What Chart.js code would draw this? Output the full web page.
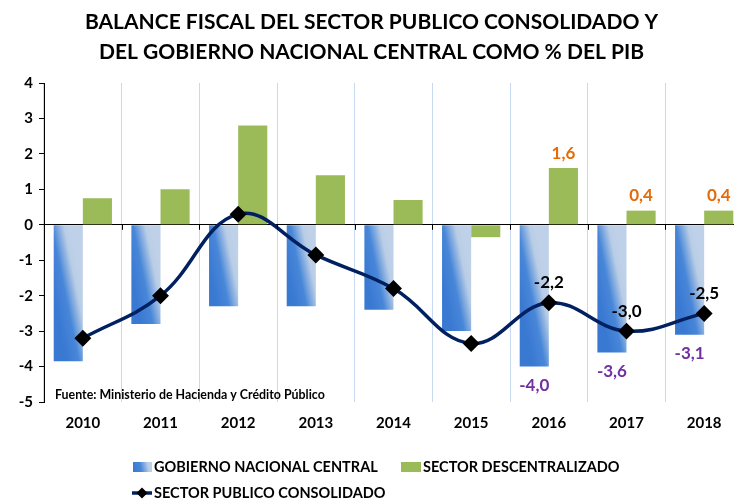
<!DOCTYPE html>
<html>
<head>
<meta charset="utf-8">
<script src="https://cdn.jsdelivr.net/npm/chart.js@4.4.1/dist/chart.umd.min.js"></script>
<style>
  html, body { margin: 0; padding: 0; background: #fff; overflow: hidden; }
  #wrap { width: 734px; height: 504px; overflow: hidden; }
</style>
</head>
<body>
<div id="wrap"><canvas id="balanceChart" width="772" height="504"></canvas></div>
<script>
// datos (% del PIB)
const years = ['2010', '2011', '2012', '2013', '2014', '2015', '2016', '2017', '2018'];
const gobiernoCentral = [-3.85, -2.8, -2.3, -2.3, -2.4, -3.0, -4.0, -3.6, -3.1];
const sectorDescentralizado = [0.75, 1.0, 2.8, 1.4, 0.7, -0.35, 1.6, 0.4, 0.4];
const sectorConsolidado = [-3.2, -2.0, 0.3, -0.85, -1.8, -3.35, -2.2, -3.0, -2.5];
const yTicks = [4, 3, 2, 1, 0, -1, -2, -3, -4, -5];
const labeledYears = ['2016', '2017', '2018'];

const titleLines = [
    'BALANCE FISCAL DEL SECTOR PUBLICO CONSOLIDADO Y',
    'DEL GOBIERNO NACIONAL CENTRAL COMO % DEL PIB'
];
const fuente = 'Fuente: Ministerio de Hacienda y Crédito Público';
const seriesNames = ['GOBIERNO NACIONAL CENTRAL', 'SECTOR DESCENTRALIZADO', 'SECTOR PUBLICO CONSOLIDADO'];

const FONT = 'Lato, "Open Sans", sans-serif';
const GREEN = '#9bbb59';
const NAVY = '#002060';

const fmt = v => v.toFixed(1).replace('.', ',');

// degradado casi horizontal, oscuro a la izquierda
function blueGrad(g, left, right, midY) {
    const k = (right - left) * 0.1;
    const grad = g.createLinearGradient(left, midY + k, right, midY - k);
    grad.addColorStop(0, '#3a79d2');
    grad.addColorStop(0.4, '#4786d8');
    grad.addColorStop(0.8, '#b9cde6');
    grad.addColorStop(1, '#bed1e8');
    return grad;
}

const extras = {
    id: 'extras',
    beforeDatasetsDraw(chart) {
        const g = chart.ctx;
        chart.getDatasetMeta(1).data.forEach(el => {
            const left = el.x - el.width / 2;
            const right = el.x + el.width / 2;
            const mid = (el.y + el.base) / 2;
            el.options = Object.assign({}, el.options, { backgroundColor: blueGrad(g, left, right, mid) });
        });
    },
    afterDatasetsDraw(chart) {
        const g = chart.ctx;
        const xs = chart.scales.x, ys = chart.scales.y;
        const y0 = ys.getPixelForValue(0);
        g.save();
        // marcas sobre la linea de cero
        g.strokeStyle = '#000';
        g.lineWidth = 1;
        for (let i = 0; i < years.length; i++) {
            const bx = Math.round((xs.getPixelForValue(i) + xs.getPixelForValue(i + 1)) / 2) + 0.5;
            g.beginPath();
            g.moveTo(bx, y0);
            g.lineTo(bx, y0 + 5);
            g.stroke();
        }
        // etiquetas de datos
        g.font = 'bold 17px ' + FONT;
        g.textAlign = 'center';
        g.textBaseline = 'middle';
        const blueMeta = chart.getDatasetMeta(1);
        const greenMeta = chart.getDatasetMeta(2);
        const lineMeta = chart.getDatasetMeta(0);
        labeledYears.forEach(yr => {
            const i = years.indexOf(yr);
            const b = blueMeta.data[i], gr = greenMeta.data[i], p = lineMeta.data[i];
            g.fillStyle = '#7030a0';
            g.fillText(fmt(gobiernoCentral[i]), b.x, b.y + 19);
            g.fillStyle = '#e36c09';
            g.fillText(fmt(sectorDescentralizado[i]), gr.x, gr.y - 15);
            g.fillStyle = '#000';
            g.fillText(fmt(sectorConsolidado[i]), p.x, p.y - 20);
        });
        // fuente
        g.font = 'bold 12.4px ' + FONT;
        g.textAlign = 'left';
        g.fillText(fuente, 55, 395);
        g.restore();
    },
    afterDraw(chart) {
        const g = chart.ctx;
        g.save();
        g.font = 'bold 14.5px ' + FONT;
        g.textBaseline = 'middle';
        g.textAlign = 'left';
        // leyenda fila 1
        g.fillStyle = blueGrad(g, 133, 152, 467);
        g.fillRect(133, 462, 19, 10);
        g.fillStyle = '#000';
        g.fillText(seriesNames[0], 154, 467);
        g.fillStyle = GREEN;
        g.fillRect(401, 462, 20, 10);
        g.fillStyle = '#000';
        g.fillText(seriesNames[1], 423, 467);
        // fila 2
        g.strokeStyle = NAVY;
        g.lineWidth = 3.5;
        g.beginPath();
        g.moveTo(132, 493);
        g.lineTo(152, 493);
        g.stroke();
        g.beginPath();
        g.moveTo(142, 487.5);
        g.lineTo(147.5, 493);
        g.lineTo(142, 498.5);
        g.lineTo(136.5, 493);
        g.closePath();
        g.fill();
        g.fillText(seriesNames[2], 154, 493);
        g.restore();
    }
};

new Chart(document.getElementById('balanceChart'), {
    data: {
        labels: years,
        datasets: [
            {
                type: 'line',
                label: seriesNames[2],
                data: sectorConsolidado,
                borderColor: NAVY,
                borderWidth: 3.5,
                tension: 0.4,
                pointStyle: 'rectRot',
                pointRadius: 6,
                pointBackgroundColor: '#000',
                pointBorderColor: '#000',
                order: 0
            },
            {
                type: 'bar',
                label: seriesNames[0],
                data: gobiernoCentral,
                backgroundColor: '#4a87d8',
                categoryPercentage: 0.75,
                barPercentage: 1.0,
                order: 1
            },
            {
                type: 'bar',
                label: seriesNames[1],
                data: sectorDescentralizado,
                backgroundColor: GREEN,
                categoryPercentage: 0.75,
                barPercentage: 1.0,
                order: 1
            }
        ]
    },
    options: {
        responsive: false,
        animation: false,
        layout: { padding: { left: 0, right: 29, top: 0, bottom: 0 } },
        scales: {
            x: {
                afterFit: s => { s.height = 102; },
                border: { display: false },
                grid: { offset: true, color: '#c6d9f0', drawTicks: false },
                ticks: { color: '#000', font: { family: FONT, size: 15, weight: 'bold' }, padding: 12 }
            },
            y: {
                min: -5,
                max: 4,
                afterFit: s => { s.width = 44; },
                afterBuildTicks: s => { s.ticks = yTicks.map(v => ({ value: v })); },
                border: { display: true, color: '#000', width: 1 },
                grid: {
                    color: c => c.tick && c.tick.value === 0 ? '#000' : 'rgba(0,0,0,0)',
                    tickColor: '#000',
                    tickLength: 5
                },
                ticks: { color: '#000', font: { family: FONT, size: 15, weight: 'bold' }, padding: 6 }
            }
        },
        plugins: {
            legend: { display: false },
            tooltip: { enabled: false },
            title: {
                display: true,
                text: titleLines,
                color: '#000',
                font: { family: FONT, size: 21, weight: 'bold', lineHeight: 1.43 },
                padding: { top: 7, bottom: 16 }
            }
        }
    },
    plugins: [extras]
});
</script>
</body>
</html>
